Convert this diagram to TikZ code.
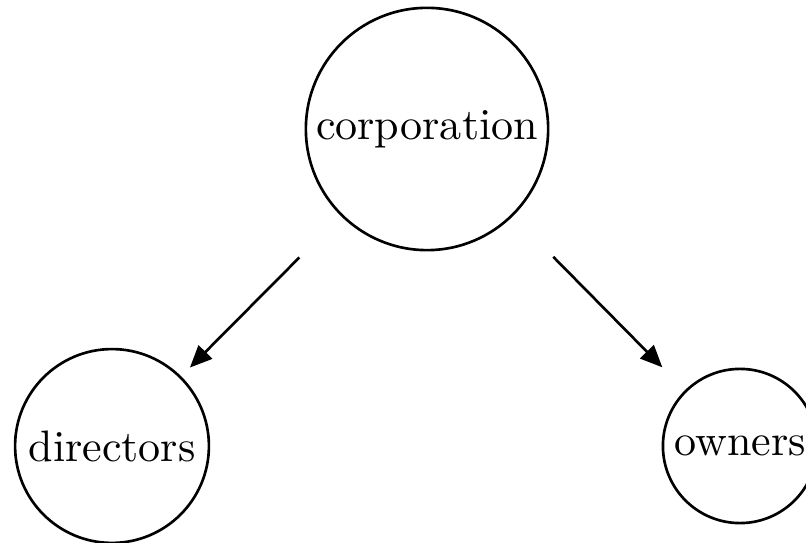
\documentclass[tikz,border=0pt]{standalone}
\usetikzlibrary{arrows.meta}
\begin{document}
\begin{tikzpicture}[x=0.227pt,y=-0.227pt,
  entity/.style={draw,circle,line width=0.6pt,inner sep=0pt},
  link/.style={line width=0.6pt,-{Triangle[length=5pt,width=4.3pt]}}]
\useasboundingbox (0,0) rectangle (806,543);
\node[entity,minimum size=55pt] (corp) at (427,129) {corporation};
\node[entity,minimum size=44pt] (dir) at (112,446) {directors};
\node[entity,minimum size=35pt] (own) at (740,446) {owners};
\draw[link,shorten <=13.3pt,shorten >=2.8pt] (corp) -- (dir);
\draw[link,shorten <=13pt,shorten >=7.3pt] (corp) -- (own);
\end{tikzpicture}
\end{document}
